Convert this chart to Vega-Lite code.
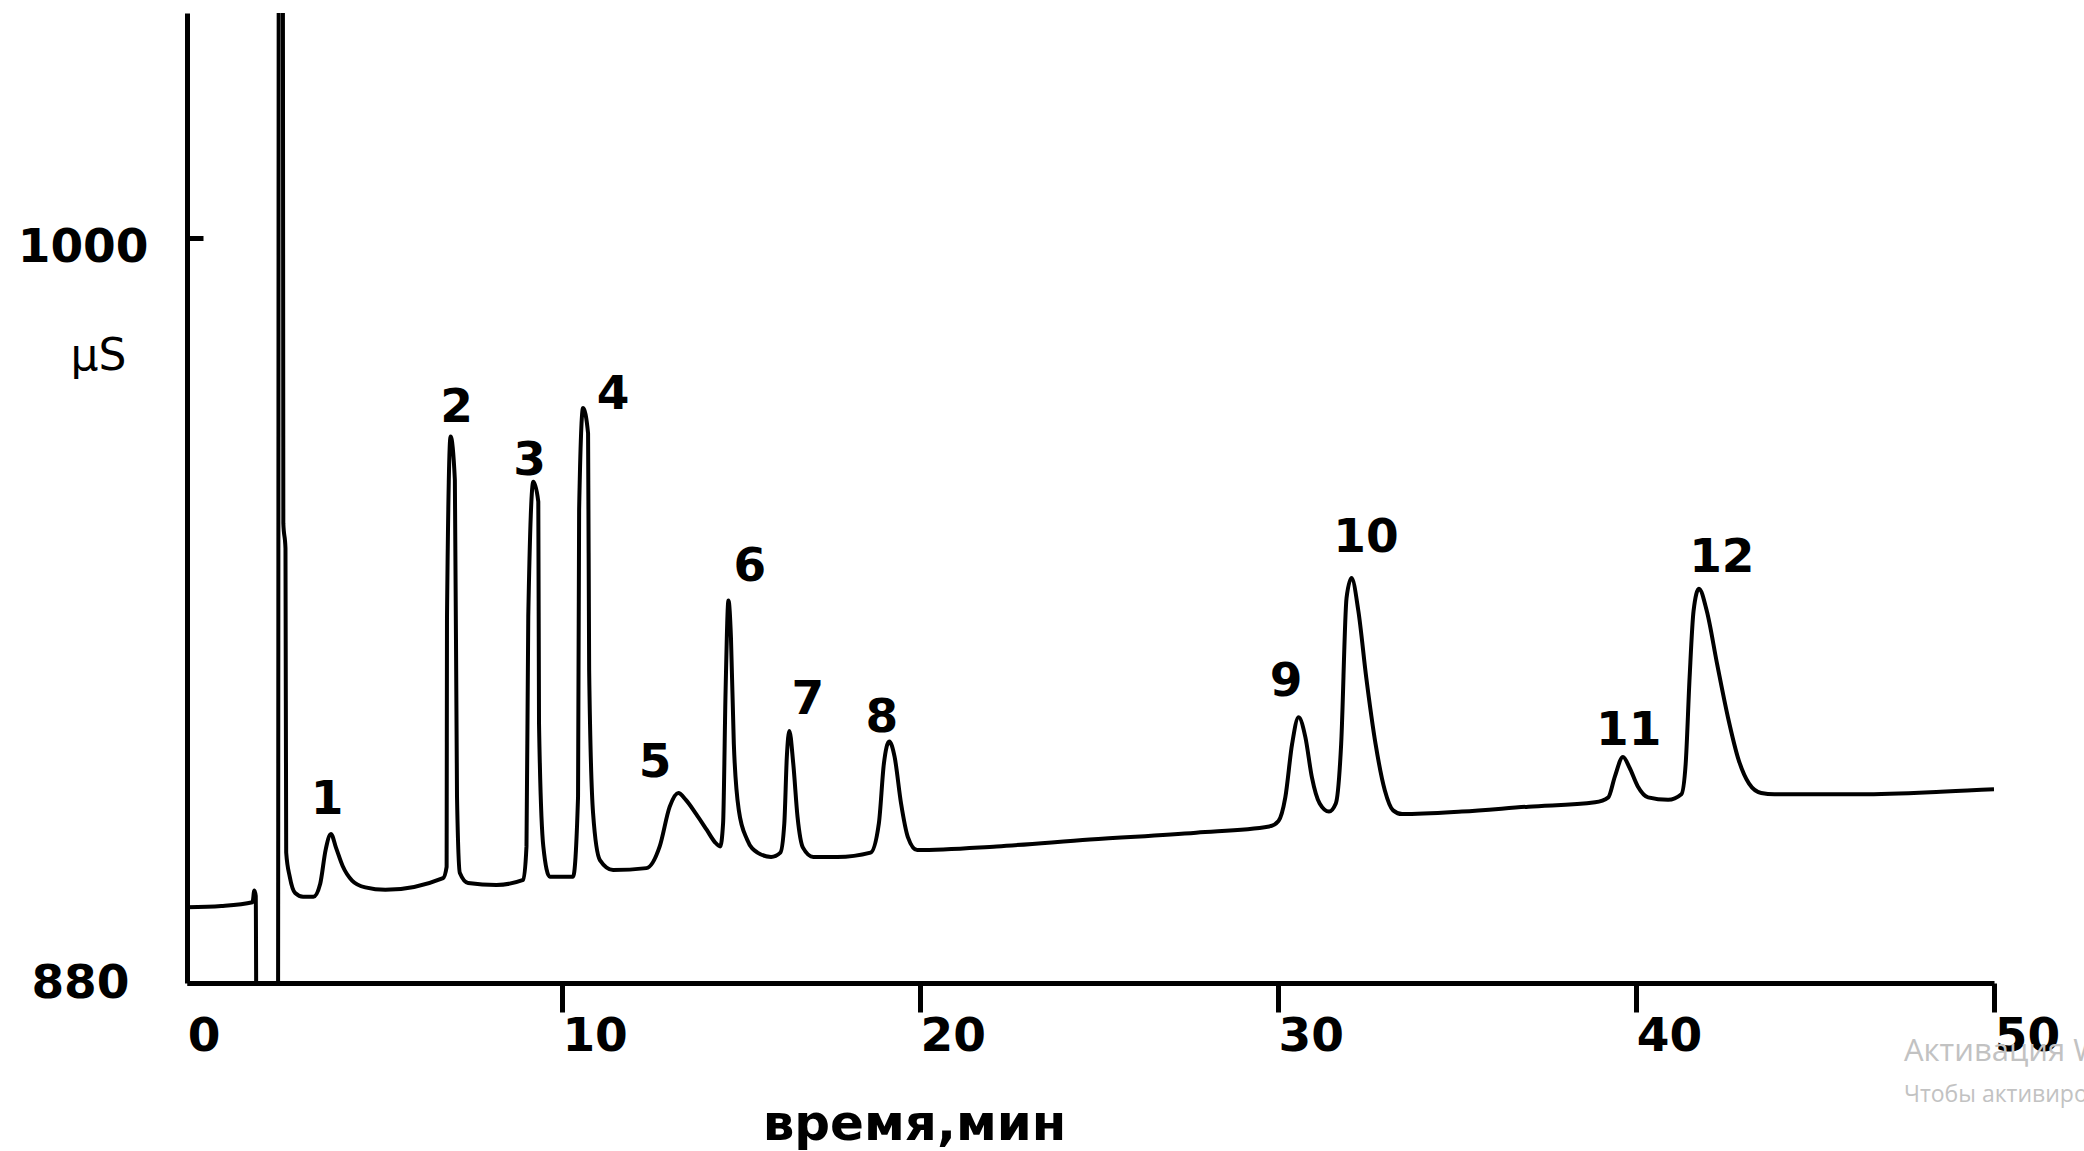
{
  "$schema": "https://vega.github.io/schema/vega-lite/v6.json",
  "width": 1807,
  "height": 970,
  "autosize": {"type": "none"},
  "padding": {"left": 187, "top": 13, "right": 90, "bottom": 168},
  "background": "white",
  "config": {"view": {"stroke": null}, "font": "DejaVu Sans"},
  "title": {
    "text": "Активация Windows",
    "subtitle": "Чтобы активировать Windows, перейдите в раздел \"Параметры\".",
    "orient": "bottom",
    "anchor": "start",
    "frame": "group",
    "dx": 1717,
    "offset": -112,
    "font": "Open Sans",
    "fontSize": 31,
    "fontWeight": "normal",
    "color": "#c2c2c2",
    "subtitleFont": "Open Sans",
    "subtitleFontSize": 23,
    "subtitleColor": "#c2c2c2",
    "subtitlePadding": 16,
    "baseline": "top"
  },
  "datasets": {
    "trace": [
      {"t": -0.46, "v": 892.2}, {"t": 0.5, "v": 892.4}, {"t": 1.37, "v": 893.0}, {"t": 1.42, "v": 894.9},
      {"t": 1.46, "v": 894.0}, {"t": 1.48, "v": 870}, {"t": 2.08, "v": 870}, {"t": 2.11, "v": 1100},
      {"t": 2.21, "v": 1100}, {"t": 2.23, "v": 954}, {"t": 2.29, "v": 950}, {"t": 2.31, "v": 901},
      {"t": 2.41, "v": 897.1}, {"t": 2.56, "v": 894.5}, {"t": 2.78, "v": 893.9}, {"t": 3.07, "v": 893.9},
      {"t": 3.26, "v": 896.0}, {"t": 3.41, "v": 901.4}, {"t": 3.56, "v": 904.0}, {"t": 3.7, "v": 901.8},
      {"t": 3.89, "v": 898.8}, {"t": 4.15, "v": 896.5}, {"t": 4.52, "v": 895.4}, {"t": 5.08, "v": 895.0},
      {"t": 6.69, "v": 896.9}, {"t": 6.79, "v": 898.7}, {"t": 6.8, "v": 938.7}, {"t": 6.9, "v": 968.0},
      {"t": 7.02, "v": 961.0}, {"t": 7.08, "v": 910.0}, {"t": 7.16, "v": 897.7}, {"t": 7.39, "v": 896.1},
      {"t": 8.18, "v": 895.8}, {"t": 8.93, "v": 896.6},
      {"t": 9.02, "v": 902.0}, {"t": 9.07, "v": 939.0}, {"t": 9.21, "v": 960.7}, {"t": 9.35, "v": 957.5},
      {"t": 9.37, "v": 921.8}, {"t": 9.49, "v": 902.0}, {"t": 9.67, "v": 897.1}, {"t": 10.32, "v": 897.1},
      {"t": 10.46, "v": 910.0}, {"t": 10.49, "v": 956.2}, {"t": 10.6, "v": 972.6}, {"t": 10.74, "v": 968.5},
      {"t": 10.77, "v": 930.4}, {"t": 10.88, "v": 907.3}, {"t": 11.07, "v": 899.8}, {"t": 11.44, "v": 898.2},
      {"t": 12.37, "v": 898.5}, {"t": 12.74, "v": 902.0}, {"t": 13.02, "v": 908.4}, {"t": 13.26, "v": 910.6},
      {"t": 13.47, "v": 909.5}, {"t": 13.76, "v": 907.2}, {"t": 14.06, "v": 904.6}, {"t": 14.28, "v": 902.7},
      {"t": 14.43, "v": 902.0}, {"t": 14.51, "v": 905.7}, {"t": 14.58, "v": 927.1}, {"t": 14.66, "v": 941.6},
      {"t": 14.73, "v": 935.6}, {"t": 14.81, "v": 918.5}, {"t": 14.95, "v": 907.8}, {"t": 15.18, "v": 903.1},
      {"t": 15.47, "v": 901.0}, {"t": 15.85, "v": 900.3}, {"t": 16.11, "v": 901.0}, {"t": 16.22, "v": 905.7},
      {"t": 16.29, "v": 916.4}, {"t": 16.36, "v": 920.6}, {"t": 16.47, "v": 915.3}, {"t": 16.59, "v": 906.7},
      {"t": 16.74, "v": 901.8}, {"t": 17.03, "v": 900.3}, {"t": 17.7, "v": 900.3}, {"t": 18.63, "v": 901.0},
      {"t": 18.86, "v": 905.7}, {"t": 19.0, "v": 915.3}, {"t": 19.15, "v": 918.9}, {"t": 19.3, "v": 916.4},
      {"t": 19.48, "v": 908.9}, {"t": 19.67, "v": 903.5}, {"t": 19.93, "v": 901.4}, {"t": 22.15, "v": 902.0},
      {"t": 24.75, "v": 903.1}, {"t": 27.72, "v": 904.2}, {"t": 29.76, "v": 905.2}, {"t": 30.02, "v": 906.1},
      {"t": 30.21, "v": 909.9}, {"t": 30.4, "v": 918.5}, {"t": 30.58, "v": 922.8}, {"t": 30.77, "v": 919.6},
      {"t": 30.95, "v": 913.2}, {"t": 31.17, "v": 908.9}, {"t": 31.43, "v": 907.6}, {"t": 31.62, "v": 908.9},
      {"t": 31.77, "v": 918.5}, {"t": 31.92, "v": 942.0}, {"t": 32.06, "v": 945.2}, {"t": 32.25, "v": 939.9},
      {"t": 32.47, "v": 929.2}, {"t": 32.73, "v": 918.5}, {"t": 32.99, "v": 911.0}, {"t": 33.22, "v": 907.8},
      {"t": 33.47, "v": 907.2}, {"t": 35.14, "v": 907.6}, {"t": 37.0, "v": 908.4}, {"t": 38.86, "v": 909.1},
      {"t": 39.23, "v": 909.9}, {"t": 39.41, "v": 913.2}, {"t": 39.64, "v": 916.4}, {"t": 39.82, "v": 914.7},
      {"t": 40.05, "v": 911.7}, {"t": 40.34, "v": 909.9}, {"t": 40.9, "v": 909.5}, {"t": 41.27, "v": 910.4},
      {"t": 41.39, "v": 915.3}, {"t": 41.5, "v": 929.2}, {"t": 41.61, "v": 939.9}, {"t": 41.76, "v": 943.5},
      {"t": 41.98, "v": 939.9}, {"t": 42.27, "v": 931.3}, {"t": 42.57, "v": 922.8}, {"t": 42.87, "v": 915.9},
      {"t": 43.16, "v": 912.1}, {"t": 43.5, "v": 910.6}, {"t": 43.87, "v": 910.4}, {"t": 46.28, "v": 910.4},
      {"t": 48.51, "v": 910.8}, {"t": 49.25, "v": 911.0}, {"t": 50.0, "v": 911.2}
    ],
    "peaks": [
      {"t": 3.45, "v": 909.5, "label": "1"},
      {"t": 7.07, "v": 972.6, "label": "2"},
      {"t": 9.11, "v": 964.0, "label": "3"},
      {"t": 11.44, "v": 974.7, "label": "4"},
      {"t": 12.61, "v": 915.4, "label": "5"},
      {"t": 15.26, "v": 947.0, "label": "6"},
      {"t": 16.88, "v": 925.6, "label": "7"},
      {"t": 18.94, "v": 922.7, "label": "8"},
      {"t": 30.23, "v": 928.5, "label": "9"},
      {"t": 32.46, "v": 951.7, "label": "10"},
      {"t": 39.8, "v": 920.6, "label": "11"},
      {"t": 42.4, "v": 948.5, "label": "12"}
    ]
  },
  "layer": [
    {
      "data": {"name": "trace"},
      "mark": {"type": "line", "clip": true, "color": "black", "strokeWidth": 4, "interpolate": "monotone"},
      "encoding": {
        "x": {
          "field": "t", "type": "quantitative",
          "scale": {"domain": [-0.46, 50], "nice": false, "zero": false},
          "axis": {
            "values": [0, 10, 20, 30, 40, 50],
            "format": "d",
            "grid": false,
            "domainColor": "black", "domainWidth": 5,
            "tickColor": "black", "tickWidth": 5, "tickSize": 29,
            "tickOpacity": {"condition": {"test": "datum.value == 0", "value": 0}, "value": 1},
            "labelFont": "DejaVu Sans", "labelFontSize": 47, "labelFontWeight": "bold", "labelColor": "black",
            "labelBaseline": "alphabetic", "labelPadding": 38, "labelFlush": false, "labelOverlap": false, "labelBound": false,
            "labelOffset": {"condition": {"test": "datum.value == 0", "value": 0}, "value": 33},
            "title": "время,мин",
            "titleFont": "DejaVu Sans", "titleFontSize": 50, "titleFontWeight": "bold", "titleColor": "black",
            "titleX": 727, "titleY": 156, "titleAlign": "center", "titleBaseline": "alphabetic"
          }
        },
        "y": {
          "field": "v", "type": "quantitative",
          "scale": {"domain": [880, 1036.2], "nice": false, "zero": false},
          "axis": {
            "values": [880, 1000],
            "format": "d",
            "grid": false,
            "domainColor": "black", "domainWidth": 5,
            "tickColor": "black", "tickWidth": 5, "tickSize": -16,
            "labelFont": "DejaVu Sans", "labelFontSize": 47, "labelFontWeight": "bold", "labelColor": "black",
            "labelBaseline": "middle", "labelFlush": false, "labelOverlap": false, "labelBound": false,
            "labelPadding": {"condition": {"test": "datum.value == 880", "value": 74}, "value": 55},
            "labelOffset": {"condition": {"test": "datum.value == 1000", "value": 10}, "value": 0},
            "title": "μS",
            "titleFont": "DejaVu Sans", "titleFontSize": 44, "titleFontWeight": "normal", "titleColor": "black",
            "titleAngle": 0, "titleX": -89, "titleY": 343, "titleAlign": "center", "titleBaseline": "middle"
          }
        },
        "order": {"value": null}
      }
    },
    {
      "data": {"name": "peaks"},
      "mark": {"type": "text", "font": "DejaVu Sans", "fontSize": 47, "fontWeight": "bold", "color": "black", "align": "center", "baseline": "middle"},
      "encoding": {
        "x": {"field": "t", "type": "quantitative"},
        "y": {"field": "v", "type": "quantitative"},
        "text": {"field": "label"}
      }
    }
  ]
}
